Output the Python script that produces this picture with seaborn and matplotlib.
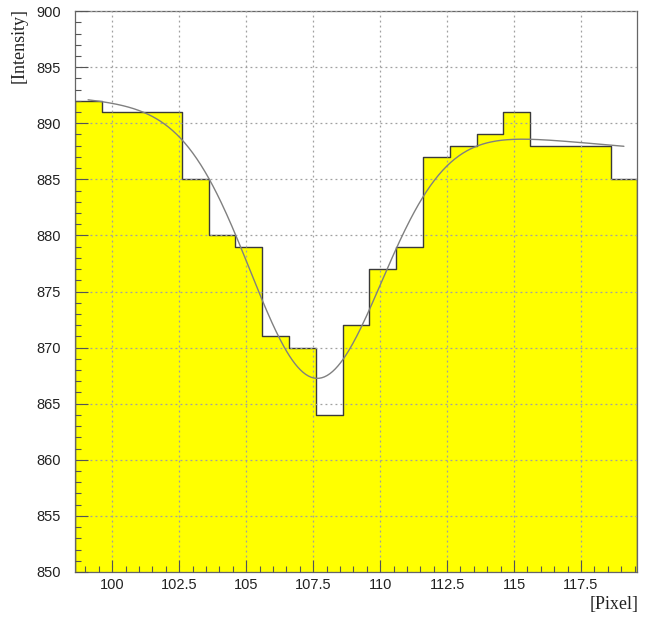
import numpy as np
import pandas as pd
import matplotlib
matplotlib.use("Agg")
import matplotlib.pyplot as plt
from matplotlib.ticker import MultipleLocator
import seaborn as sns

# Histogram: 21 one-pixel bins starting at 98.6
bin_start = 98.6
bin_width = 1.0
intensity = [892, 891, 891, 891, 885, 880, 879, 871, 870, 864, 872,
             877, 879, 887, 888, 889, 891, 888, 888, 888, 885]

# Gaussian dip on a linear background (fit result)
fit_range = (99.1, 119.1)
bg_const = 912.96
bg_slope = -0.21
dip_amp = 23.1
dip_mean = 107.6
dip_sigma = 2.45

x_ticks = [100, 102.5, 105, 107.5, 110, 112.5, 115, 117.5]
x_tick_labels = ["100", "102.5", "105", "107.5", "110", "112.5", "115", "117.5"]
y_ticks = [850, 855, 860, 865, 870, 875, 880, 885, 890, 895, 900]

sns.set_style("white")
plt.rcParams["font.family"] = ["Liberation Sans", "DejaVu Sans"]

n_bins = len(intensity)
bin_end = bin_start + bin_width * n_bins
centers = bin_start + bin_width * (np.arange(n_bins) + 0.5)
hist_df = pd.DataFrame({"pixel": centers, "intensity": intensity})

xf = np.linspace(fit_range[0], fit_range[1], 400)
yf = bg_const + bg_slope * xf - dip_amp * np.exp(-0.5 * ((xf - dip_mean) / dip_sigma) ** 2)
fit_df = pd.DataFrame({"pixel": xf, "intensity": yf})

fig = plt.figure(figsize=(6.48, 6.17), dpi=100)
ax = fig.add_axes([0.1153, 0.073, 0.8682, 0.909])

sns.histplot(data=hist_df, x="pixel", weights="intensity",
             binwidth=bin_width, binrange=(bin_start, bin_end),
             element="step", fill=True, color="#ffff00", alpha=1.0,
             edgecolor="#3a3a3a", linewidth=1.0, ax=ax, zorder=1)
sns.lineplot(data=fit_df, x="pixel", y="intensity", color="#808080",
             linewidth=1.0, ax=ax, zorder=3)

ax.set_xlim(bin_start, bin_end)
ax.set_ylim(850, 900)

ax.set_xticks(x_ticks)
ax.set_xticklabels(x_tick_labels)
ax.set_yticks(y_ticks)
ax.xaxis.set_minor_locator(MultipleLocator(0.5))
ax.yaxis.set_minor_locator(MultipleLocator(1))
ax.tick_params(axis="both", which="both", bottom=True, left=True,
               top=False, right=False, direction="in")
ax.tick_params(axis="both", which="major", length=9,
               width=0.8, color="#555555", labelsize=10.5, labelcolor="#222222")
ax.tick_params(axis="both", which="minor", length=4.5,
               width=0.8, color="#555555")
ax.tick_params(axis="x", which="major", pad=4)
ax.tick_params(axis="y", which="major", pad=10)

ax.grid(True, which="major", linestyle=(0, (1.5, 2.5)), color="#a0a0a0",
        linewidth=0.9, zorder=2)
ax.set_axisbelow(False)

for side in ax.spines.values():
    side.set_color("#666666")
    side.set_linewidth(0.9)

ax.set_xlabel("")
ax.set_ylabel("")
fig.text(0.985, 0.006, "[Pixel]", ha="right", va="bottom",
         fontsize=13, family=["Liberation Serif", "DejaVu Serif"], color="#222222")
fig.text(0.016, 0.987, "[Intensity]", ha="left", va="top", rotation=90,
         fontsize=13, family=["Liberation Serif", "DejaVu Serif"], color="#222222")

fig.savefig("out.png", dpi=100)
